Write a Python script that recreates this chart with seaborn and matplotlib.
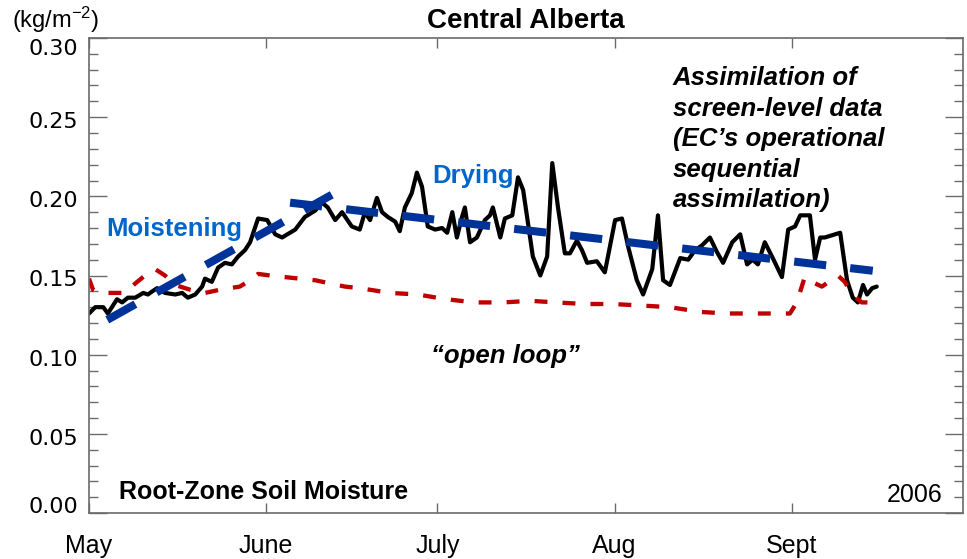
import matplotlib
matplotlib.use("Agg")
import matplotlib.pyplot as plt
import matplotlib.transforms as mtransforms
from matplotlib.ticker import MultipleLocator
import pandas as pd
import seaborn as sns

# ---- data (x = days since 1 May 2006, y = root-zone soil moisture) ----
assim_day = [
    0.0, 1.1, 2.5, 3.3, 4.9, 5.8, 6.8, 8.1, 9.5, 10.3,
    11.9, 13.3, 15.1, 16.3, 17.3, 18.6, 19.8, 20.3, 21.5, 22.6,
    23.8, 25.0, 26.1, 27.3, 28.2, 29.6, 31.2, 32.6, 33.8, 36.1,
    37.8, 39.6, 40.8, 41.8, 43.1, 44.3, 46.0, 47.4, 48.3, 49.2,
    50.4, 51.3, 52.3, 53.6, 54.4, 55.3, 56.5, 57.4, 58.3, 59.3,
    60.6, 61.8, 62.7, 63.6, 64.4, 65.3, 65.8, 66.7, 67.9, 69.3,
    70.2, 70.7, 72.0, 72.8, 74.1, 75.1, 76.0, 77.7, 79.0, 80.2,
    81.1, 82.1, 83.3, 84.2, 85.4, 86.3, 87.2, 88.9, 90.3, 92.1,
    93.3, 94.4, 95.9, 97.0, 98.6, 99.6, 100.5, 101.7, 103.5, 104.9,
    106.1, 107.3, 108.7, 109.9, 111.0, 112.6, 114.0, 115.2, 116.2, 117.1,
    118.3, 119.7, 121.3, 122.4, 123.6, 124.5, 126.2, 127.1, 128.0, 128.8,
    131.5, 132.7, 133.7, 134.6, 135.5, 136.2, 137.1, 137.9,
]
assim_val = [
    0.126, 0.130, 0.130, 0.126, 0.135, 0.133, 0.136, 0.136, 0.139, 0.138,
    0.142, 0.139, 0.138, 0.139, 0.136, 0.138, 0.143, 0.148, 0.146, 0.155,
    0.158, 0.157, 0.162, 0.166, 0.171, 0.186, 0.185, 0.176, 0.174, 0.179,
    0.187, 0.191, 0.196, 0.193, 0.185, 0.190, 0.181, 0.179, 0.190, 0.185,
    0.199, 0.190, 0.187, 0.184, 0.178, 0.193, 0.202, 0.215, 0.206, 0.181,
    0.179, 0.180, 0.177, 0.190, 0.174, 0.187, 0.193, 0.171, 0.174, 0.185,
    0.188, 0.193, 0.174, 0.186, 0.188, 0.212, 0.204, 0.162, 0.150, 0.162,
    0.221, 0.193, 0.164, 0.164, 0.172, 0.166, 0.158, 0.159, 0.152, 0.185,
    0.186, 0.168, 0.147, 0.138, 0.154, 0.188, 0.147, 0.144, 0.161, 0.160,
    0.166, 0.169, 0.174, 0.165, 0.158, 0.171, 0.176, 0.157, 0.160, 0.157,
    0.171, 0.161, 0.149, 0.179, 0.181, 0.188, 0.188, 0.160, 0.174, 0.174,
    0.177, 0.147, 0.136, 0.133, 0.144, 0.138, 0.142, 0.143,
]

openloop_day = [
    0.0, 0.7, 1.9, 6.3, 8.1, 9.8, 11.6, 13.3, 15.1, 17.7,
    20.3, 22.9, 26.4, 28.2, 29.6, 31.7, 34.3, 36.9, 39.6, 42.2,
    44.8, 47.4, 52.7, 57.6, 62.5, 67.6, 72.5, 77.2, 81.8, 86.8,
    91.7, 96.8, 101.7, 107.0, 111.7, 116.6, 121.3, 122.7, 123.9, 125.3,
    127.1, 128.3, 131.1, 132.3, 133.6, 135.3, 137.6,
]
openloop_val = [
    0.148, 0.141, 0.139, 0.139, 0.145, 0.150, 0.154, 0.150, 0.144, 0.141,
    0.139, 0.141, 0.143, 0.147, 0.151, 0.150, 0.149, 0.148, 0.147, 0.145,
    0.143, 0.142, 0.139, 0.138, 0.135, 0.133, 0.133, 0.134, 0.133, 0.132,
    0.132, 0.131, 0.130, 0.127, 0.126, 0.126, 0.126, 0.126, 0.133, 0.149,
    0.145, 0.143, 0.150, 0.146, 0.138, 0.133, 0.133,
]

# trend segments
moist_day = [3.2, 42.5]
moist_val = [0.122, 0.201]
dry_day = [35.2, 137.2]
dry_val = [0.196, 0.153]

month_start = [0, 31, 61, 92, 123]
month_labels = ["May", "June", "July", "Aug", "Sept"]
y_ticks = [0.00, 0.05, 0.10, 0.15, 0.20, 0.25, 0.30]
y_tick_labels = ["0.00", "0.05", "0.10", "0.15", "0.20", "0.25", "0.30"]

# ---- figure ----
sns.set_style("white")
plt.rcParams["font.family"] = ["Liberation Sans", "DejaVu Sans"]
plt.rcParams["text.color"] = "black"
plt.rcParams["xtick.labelcolor"] = "black"
plt.rcParams["ytick.labelcolor"] = "black"
plt.rcParams["mathtext.fontset"] = "custom"
plt.rcParams["mathtext.rm"] = "Liberation Sans"
plt.rcParams["mathtext.it"] = "Liberation Sans:italic"

fig = plt.figure(figsize=(9.67, 5.59), dpi=100)
ax = fig.add_axes([89 / 967, 1 - 513 / 559, 874 / 967, 475 / 559])

assim = pd.DataFrame({"day": assim_day, "sm": assim_val})
openloop = pd.DataFrame({"day": openloop_day, "sm": openloop_val})
moist = pd.DataFrame({"day": moist_day, "sm": moist_val})
dry = pd.DataFrame({"day": dry_day, "sm": dry_val})

sns.lineplot(data=assim, x="day", y="sm", ax=ax, color="black", lw=3.0,
             sort=False, estimator=None)
sns.lineplot(data=openloop, x="day", y="sm", ax=ax, color="#C00000", lw=3.1,
             sort=False, estimator=None, linestyle=(0, (3.0, 3.5)))
for seg in (moist, dry):
    sns.lineplot(data=seg, x="day", y="sm", ax=ax, color="#003399", lw=5.8,
                 sort=False, estimator=None, linestyle=(0, (4.0, 3.0)))

ax.set_xlim(0, 153)
ax.set_ylim(0, 0.30)
ax.set_xlabel("")
ax.set_ylabel("")

ax.set_xticks(month_start, month_labels)
ax.set_yticks(y_ticks, y_tick_labels)
ax.yaxis.set_minor_locator(MultipleLocator(0.01))

axis_grey = "#6b6b6b"
for sp in ax.spines.values():
    sp.set_visible(True)
    sp.set_color(axis_grey)
    sp.set_linewidth(1.2)

ax.tick_params(which="both", direction="in", top=True, right=True,
               left=True, bottom=True, color=axis_grey, width=1.0,
               labelcolor="black")
ax.tick_params(axis="x", which="minor", bottom=False, top=False)
ax.tick_params(axis="x", length=7, pad=15, labelsize=18)
ax.tick_params(axis="y", which="major", length=13, pad=8, labelsize=16)
ax.tick_params(axis="y", which="minor", length=6.5)
for lab in ax.get_yticklabels():
    lab.set_fontfamily("DejaVu Sans")

# nudge the y tick labels
dpi_t = fig.dpi_scale_trans
for lab, val in zip(ax.get_yticklabels(), y_ticks):
    dy = -0.03
    if val == 0.30:
        dy = -0.09
    elif val == 0.00:
        dy = 0.08
    lab.set_transform(lab.get_transform() + mtransforms.ScaledTranslation(0, dy, dpi_t))

ax.set_title("Central Alberta", fontsize=20, fontweight="bold", pad=7,
             color="black")
fig.text(12 / 967, 1 - 28 / 559, "(kg/m$^{-2}$)", fontsize=17, va="baseline",
         color="black")

ax.text((106 - 89) / 874, (513 - 236) / 475, "Moistening", transform=ax.transAxes,
        fontsize=18.5, fontweight="bold", color="#0066CC", va="baseline")
ax.text((432 - 89) / 874, (513 - 183) / 475, "Drying", transform=ax.transAxes,
        fontsize=18.5, fontweight="bold", color="#0066CC", va="baseline")

note_lines = ["Assimilation of", "screen-level data", "(EC\u2019s operational",
              "sequential", "assimilation)"]
for i, line in enumerate(note_lines):
    ax.text((673 - 89) / 874, (513 - (85 + 30.5 * i)) / 475, line,
            transform=ax.transAxes, fontsize=18.5, fontweight="bold",
            style="italic", va="baseline", color="black")

ax.text((505 - 89) / 874, (513 - 363) / 475, "\u201copen loop\u201d",
        transform=ax.transAxes, fontsize=18.5, fontweight="bold",
        style="italic", ha="center", va="baseline", color="black")
ax.text((119 - 89) / 874, (513 - 499) / 475, "Root-Zone Soil Moisture",
        transform=ax.transAxes, fontsize=18, fontweight="bold", va="baseline",
        color="black")
ax.text((942 - 89) / 874, (513 - 502) / 475, "2006", transform=ax.transAxes,
        fontsize=18, ha="right", va="baseline", color="black")

fig.savefig("out.png", dpi=100)
